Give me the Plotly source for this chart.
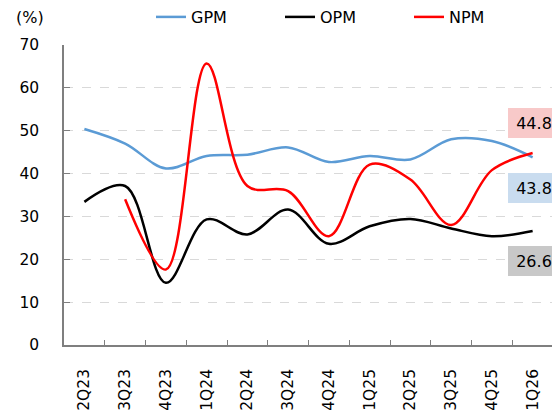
import plotly.graph_objects as go

categories = ["2Q23", "3Q23", "4Q23", "1Q24", "2Q24", "3Q24", "4Q24",
              "1Q25", "2Q25", "3Q25", "4Q25", "1Q26"]
gpm = [50.4, 47.0, 41.2, 44.1, 44.4, 46.1, 42.7, 44.1, 43.3, 48.0, 47.6, 43.8]
opm = [33.4, 37.1, 14.5, 29.3, 25.8, 31.6, 23.6, 27.7, 29.4, 27.2, 25.4, 26.6]
npm = [None, 34.0, 17.6, 65.7, 37.1, 35.9, 25.4, 42.1, 38.6, 28.0, 40.8, 44.8]

labels = [("44.8", 51.8, "#f8c9c9"), ("43.8", 36.6, "#c9dcef"), ("26.6", 19.6, "#c8c8c8")]

FONT = "DejaVu Sans"
OFF = 8  # page body offset
fig = go.Figure()
series = [("GPM", gpm, "#5b9bd5"), ("OPM", opm, "#000000"), ("NPM", npm, "#ff0000")]
for name, vals, col in series:
    fig.add_trace(go.Scatter(x=categories, y=vals, name=name, mode="lines",
                             line=dict(color=col, width=2.5, shape="spline", smoothing=1.0),
                             connectgaps=False))

L, T = 64 - OFF, 45 - OFF
R = 560 - (553 - OFF)
B = 412 - (345 - OFF)
W = 560 - L - R
H = 412 - T - B
for txt, yv, bg in labels:
    fig.add_annotation(x=(534 - OFF - L) / W, xref="paper", xanchor="center", y=yv, yref="y",
                       text=txt, showarrow=False, bgcolor=bg, width=52, height=30,
                       borderpad=0, borderwidth=0,
                       font=dict(size=16, color="black", family=FONT))

fig.add_annotation(x=(14 - OFF - L) / W, xref="paper", xanchor="left", y=1 + 28 / H, yref="paper",
                   yanchor="middle", text="(%)", showarrow=False,
                   font=dict(size=16, color="black", family=FONT))

fig.update_layout(
    width=560, height=412,
    margin=dict(l=L, r=R, t=T, b=B, autoexpand=False),
    plot_bgcolor="white", paper_bgcolor="white",
    font=dict(family=FONT, size=16, color="black"),
    showlegend=True,
    legend=dict(orientation="h", x=(151 - OFF - L) / W, xanchor="left", y=1 + 28 / H, yanchor="middle",
                font=dict(size=16, family=FONT), entrywidth=84, entrywidthmode="pixels",
                bgcolor="rgba(0,0,0,0)"),
    xaxis=dict(type="category", range=[-0.5, 11.5], tickangle=-90, automargin=False,
               showline=True, linecolor="#7f7f7f", linewidth=1.5,
               ticks="inside", tickson="boundaries", ticklen=5, tickcolor="#7f7f7f",
               ticklabelstandoff=16,
               showgrid=False, tickfont=dict(size=15.5, family=FONT)),
    yaxis=dict(range=[0, 70], dtick=10, showline=True, linecolor="#7f7f7f", linewidth=1.5,
               automargin=False,
               ticks="inside", ticklen=6, tickcolor="#7f7f7f", ticklabelstandoff=20,
               showgrid=True, gridcolor="#d9d9d9", griddash="dash", gridwidth=1,
               zeroline=False, tickfont=dict(size=15.5, family=FONT)),
)

fig.write_html("out.html")
